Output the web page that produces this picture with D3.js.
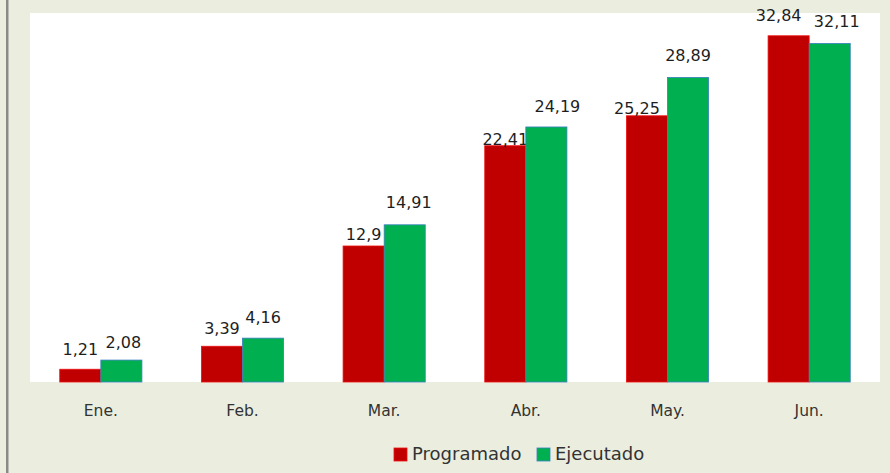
<!DOCTYPE html>
<html><head><meta charset="utf-8">
<script src="https://cdn.jsdelivr.net/npm/d3@7"></script>
<style>
html,body{margin:0;padding:0;background:#EBEEDF;}
svg{display:block;}
</style></head>
<body>
<svg id="chart" width="890" height="473"></svg>
<script>
const categories = ["Ene.", "Feb.", "Mar.", "Abr.", "May.", "Jun."];
const programado = [1.21, 3.39, 12.9, 22.41, 25.25, 32.84];
const ejecutado = [2.08, 4.16, 14.91, 24.19, 28.89, 32.11];
const programadoLabels = ["1,21", "3,39", "12,9", "22,41", "25,25", "32,84"];
const ejecutadoLabels = ["2,08", "4,16", "14,91", "24,19", "28,89", "32,11"];
const seriesNames = ["Programado", "Ejecutado"];
const yMax = 35;

// layout: manual nudges of data labels (gap above bar, horizontal shift), as in the original
const layout = {
  W: 890, H: 473,
  plot: {left: 30, right: 880, top: 13, bottom: 382},
  labelGap: {Programado: [14, 12, 6, 1, 2, 15], Ejecutado: [12, 15, 17, 15, 16, 16]},
  labelDx: {Programado: [0, 0, 0, 0, -10, -10], Ejecutado: [2, 0, 4, 11, 0, 7]}
};

const {W, H, plot} = layout;
const svg = d3.select("#chart");
const font = "'DejaVu Sans', sans-serif";

svg.append("rect").attr("x",0).attr("y",0).attr("width",W).attr("height",H).attr("fill","#EBEEDF");
svg.append("rect").attr("x",6).attr("y",0).attr("width",2.5).attr("height",H).attr("fill","#8A8A8A");
svg.append("rect").attr("x",plot.left).attr("y",plot.top)
  .attr("width",plot.right-plot.left).attr("height",plot.bottom-plot.top).attr("fill","#FFFFFF");

const x0 = d3.scaleBand().domain(categories).range([plot.left, plot.right]).paddingInner(0.42).paddingOuter(0.21);
const x1 = d3.scaleBand().domain(seriesNames).range([0, x0.bandwidth()]);
const y = d3.scaleLinear().domain([0, yMax]).range([plot.bottom, plot.top]);

const series = [
  {name:"Programado", values: programado, labels: programadoLabels, fill:"#C00000", stroke:"#F01010"},
  {name:"Ejecutado", values: ejecutado, labels: ejecutadoLabels, fill:"#00B050", stroke:"#3A7FC0"}
];

series.forEach(s => {
  const g = svg.append("g");
  g.selectAll("rect").data(categories).join("rect")
    .attr("x", c => x0(c) + x1(s.name))
    .attr("y", (c,i) => y(s.values[i]))
    .attr("width", x1.bandwidth())
    .attr("height", (c,i) => y(0) - y(s.values[i]))
    .attr("fill", s.fill)
    .attr("stroke", s.stroke).attr("stroke-width", 0.8);
  g.selectAll("text").data(categories).join("text")
    .attr("x", (c,i) => x0(c) + x1(s.name) + x1.bandwidth()/2 + layout.labelDx[s.name][i])
    .attr("y", (c,i) => y(s.values[i]) - layout.labelGap[s.name][i])
    .attr("text-anchor","middle")
    .attr("font-family", font).attr("font-size", 16)
    .attr("fill","#1E1E1E")
    .text((c,i) => s.labels[i]);
});

// x axis labels
const xAxis = d3.axisBottom(x0).tickSize(0).tickPadding(23);
const ax = svg.append("g").attr("transform", `translate(0,${plot.bottom})`).call(xAxis);
ax.select(".domain").remove();
ax.selectAll("text").attr("font-family", font).attr("font-size", 15.5).attr("fill","#333333");

// legend
const legend = svg.append("g");
const legendItems = [
  {name: seriesNames[0], x: 394, fill:"#C00000", stroke:"#F01010"},
  {name: seriesNames[1], x: 537, fill:"#00B050", stroke:"#3A7FC0"}
];
legendItems.forEach(it => {
  legend.append("rect").attr("x", it.x).attr("y", 448).attr("width", 13).attr("height", 13)
    .attr("fill", it.fill).attr("stroke", it.stroke).attr("stroke-width", 0.8);
  legend.append("text").attr("x", it.x + 18).attr("y", 460)
    .attr("font-family", font).attr("font-size", 18).attr("fill","#333333").text(it.name);
});
</script>
</body></html>
